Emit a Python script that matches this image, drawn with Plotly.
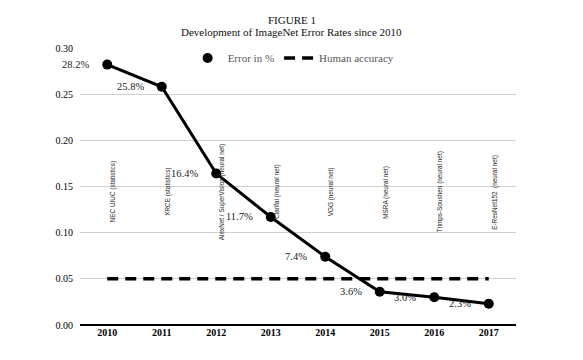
import plotly.graph_objects as go

years = ["2010", "2011", "2012", "2013", "2014", "2015", "2016", "2017"]
error_rates = [0.282, 0.258, 0.164, 0.117, 0.074, 0.036, 0.030, 0.023]
error_labels = ["28.2%", "25.8%", "16.4%", "11.7%", "7.4%", "3.6%", "3.0%", "2.3%"]
human_accuracy = [0.05] * 8
winners = ["NEC UIUC (statistics)", "XRCE (statistics)", "AlexNet / SuperVision (neural net)",
           "Clarifai (neural net)", "VGG (neural net)", "MSRA (neural net)",
           "Trimps-Soushen (neural net)", "E-ResNet152  (neural net)"]
winner_label_y = 0.144

serif = "Liberation Serif, Times New Roman, serif"

fig = go.Figure()
fig.add_trace(go.Scatter(x=years, y=error_rates, mode="lines", showlegend=False,
                         line=dict(color="black", width=3), hoverinfo="skip"))
fig.add_trace(go.Scatter(x=years, y=error_rates, mode="markers", name="Error in %",
                         marker=dict(color="black", size=10)))
fig.add_trace(go.Scatter(x=years, y=human_accuracy, mode="lines", name="Human accuracy",
                         line=dict(color="black", width=3.5, dash="11px,7px")))

annotations = []
for i, (y, t) in enumerate(zip(error_rates, error_labels)):
    annotations.append(dict(x=i, y=y, text=t, showarrow=False, xanchor="right", yanchor="middle",
                            xshift=-16, font=dict(family=serif, size=10.5, color="#222")))
for i, t in enumerate(winners):
    annotations.append(dict(x=i, y=winner_label_y, text=t, showarrow=False, textangle=-90,
                            xanchor="center", yanchor="middle", xshift=6,
                            font=dict(family="Liberation Sans Narrow, Liberation Sans, Arial", size=6.4, color="#222")))
title_x = (291.5 - 80) / 436
annotations.append(dict(text="FIGURE 1", xref="paper", yref="paper", x=title_x, y=1.0,
                        yshift=28, showarrow=False, xanchor="center", yanchor="middle",
                        font=dict(family=serif, size=11, color="#111")))
annotations.append(dict(text="Development of ImageNet Error Rates since 2010", xref="paper", yref="paper",
                        x=title_x, y=1.0, yshift=16, showarrow=False,
                        xanchor="center", yanchor="middle",
                        font=dict(family=serif, size=11, color="#111")))

# page body has an 8px margin, so the figure is drawn 8px right/down
fig.update_layout(
    width=575, height=352,
    margin=dict(l=72, r=67, t=40, b=35),
    paper_bgcolor="white", plot_bgcolor="white",
    font=dict(family=serif, size=10, color="black"),
    showlegend=True,
    legend=dict(orientation="h", x=0.49, y=0.964, xanchor="center", yanchor="middle",
                bgcolor="rgba(0,0,0,0)", font=dict(family=serif, size=11, color="#555")),
    annotations=annotations,
)
fig.update_xaxes(type="category", range=[-0.5, 7.5], showgrid=False, showline=False, zeroline=False,
                 ticks="", tickfont=dict(family=serif, size=10, color="black", weight="bold"))
fig.update_yaxes(range=[0, 0.30], dtick=0.05, tickformat=".2f", showgrid=True, gridcolor="#d0d0d0",
                 gridwidth=1, zeroline=True, zerolinecolor="black", zerolinewidth=1.5,
                 showline=False, ticks="", ticklabelstandoff=6,
                 tickfont=dict(family=serif, size=10, color="black"))

fig.write_html("out.html")
